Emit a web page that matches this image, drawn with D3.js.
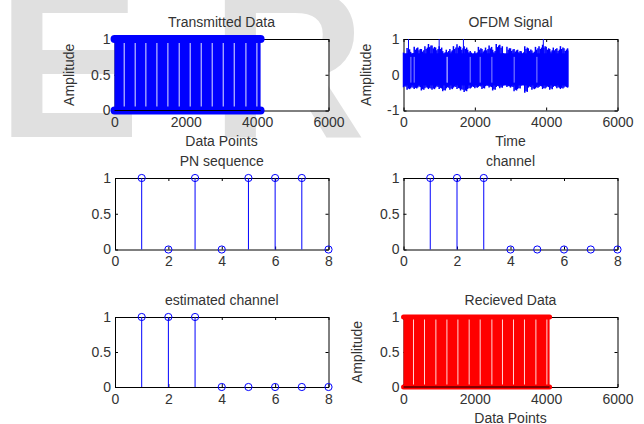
<!DOCTYPE html>
<html lang="en">
<head>
<meta charset="UTF-8">
<title>OFDM channel estimation</title>
<script src="https://d3js.org/d3.v7.min.js"></script>
<style>
  html, body { margin: 0; padding: 0; background: #fff; }
  svg { display: block; font-family: "Liberation Sans", Arial, sans-serif; }
  .lbl { fill: #333; font-size: 14px; }
</style>
</head>
<body>
<svg id="fig" width="644" height="424"></svg>
<script>
// ---- values ----
const stemIndex = [1, 2, 3, 4, 5, 6, 7, 8];
const pnSequence = [1, 0, 1, 0, 1, 1, 1, 0];
const channelTaps = [1, 1, 1, 0, 0, 0, 0, 0];
const estimatedTaps = [1, 1, 1, 0, 0, 0, 0, 0];

// transmitted / received bits: ~4096 binary samples, far too dense to read one by one,
// so the stem block is drawn as a band; the gaps are the pale lines seen inside it
const txLength = 4096;
const rxLength = 4096;
const txGaps = [272, 580, 880, 1189, 1497, 1814, 2122, 2431, 2739, 3048, 3357, 3685, 3993];
const rxGaps = [280, 589, 908, 1217, 1525, 1841, 2150, 2478, 2775, 3084, 3392, 3712, 4020];

// OFDM signal: spiky upper / lower extremes read every 100 samples, plus the solid core
const ofdmTime = [0, 100, 200, 300, 400, 500, 600, 700, 800, 900, 1000, 1100, 1200, 1300, 1400, 1500,
  1600, 1700, 1800, 1900, 2000, 2100, 2200, 2300, 2400, 2500, 2600, 2700, 2800, 2900, 3000, 3100,
  3200, 3300, 3400, 3500, 3600, 3700, 3800, 3900, 4000, 4100, 4200, 4300, 4400, 4500, 4600];
const ofdmHigh = [0.62, 0.75, 0.64, 0.78, 0.76, 0.72, 0.8, 0.86, 0.82, 0.76, 0.8, 0.66, 0.7, 0.72, 0.8, 0.85,
  0.78, 0.8, 0.7, 0.62, 0.66, 0.78, 0.72, 0.76, 0.82, 0.7, 0.86, 0.84, 0.6, 0.78, 0.74, 0.72,
  0.7, 0.66, 0.8, 0.74, 0.68, 0.78, 0.8, 0.84, 0.78, 0.72, 0.76, 0.74, 0.8, 0.74, 0.74];
const ofdmLow = [-0.35, -0.42, -0.38, -0.4, -0.36, -0.44, -0.38, -0.4, -0.42, -0.36, -0.4, -0.46, -0.38, -0.42, -0.36, -0.4,
  -0.44, -0.48, -0.4, -0.36, -0.38, -0.34, -0.4, -0.32, -0.36, -0.44, -0.34, -0.38, -0.3, -0.34, -0.36, -0.46,
  -0.4, -0.3, -0.5, -0.36, -0.42, -0.38, -0.34, -0.4, -0.36, -0.42, -0.34, -0.38, -0.4, -0.36, -0.36];
const ofdmCoreHigh = 0.6;
const ofdmCoreLow = -0.3;
const ofdmPeakTime = [140, 1000, 1680, 3920];
const ofdmPeakValue = [1, 1, 1, 1];
const ofdmPaleTime = [207, 300, 1216, 1234, 1870, 2150, 2478, 3103, 3740];

const dataTicks = [0, 2000, 4000, 6000];
const ampTicks = [0, 0.5, 1];
const ofdmTicks = [-1, 0, 1];
const indexTicks = [0, 2, 4, 6, 8];

const svg = d3.select("#fig");

// faint page watermark behind the figure
const mark = svg.append("text")
    .attr("x", -3)
    .attr("y", 137)
    .attr("font-size", 215)
    .attr("font-weight", "bold")
    .attr("fill", "#e0e0e0");
mark.append("tspan").text("E");
mark.append("tspan").attr("dx", 70).text("R");

function panel(box, xDomain, yDomain, xTicks, yTicks) {
    const x = d3.scaleLinear().domain(xDomain).range([box.left, box.right]);
    const y = d3.scaleLinear().domain(yDomain).range([box.bottom, box.top]);
    const g = svg.append("g");

    g.append("rect")
        .attr("x", box.left).attr("y", box.top)
        .attr("width", box.right - box.left).attr("height", box.bottom - box.top)
        .attr("fill", "#fff");

    const fmt = d => String(d);
    const axes = [
        [d3.axisBottom(x).tickValues(xTicks).tickFormat(fmt).tickPadding(7), `translate(0,${box.bottom})`],
        [d3.axisTop(x).tickValues(xTicks).tickFormat(""), `translate(0,${box.top})`],
        [d3.axisLeft(y).tickValues(yTicks).tickFormat(fmt).tickPadding(4), `translate(${box.left},0)`],
        [d3.axisRight(y).tickValues(yTicks).tickFormat(""), `translate(${box.right},0)`]
    ];
    axes.forEach(([ax, tr]) => {
        const a = g.append("g").attr("transform", tr)
            .call(ax.tickSizeInner(-3).tickSizeOuter(0));
        a.attr("font-family", null).attr("font-size", null);
        a.select(".domain").attr("stroke", "#000");
        a.selectAll(".tick line").attr("stroke", "#000");
        a.selectAll(".tick text").attr("class", "lbl").attr("fill", "#333");
    });

    return { g, x, y, box };
}

function titles(p, title, xLabel, yLabel, yLabelOffset) {
    const b = p.box;
    const cx = (b.left + b.right) / 2;
    svg.append("text").attr("class", "lbl")
        .attr("x", cx).attr("y", b.top - 12)
        .attr("text-anchor", "middle").text(title);
    if (xLabel) {
        svg.append("text").attr("class", "lbl")
            .attr("x", cx).attr("y", b.bottom + 35.5)
            .attr("text-anchor", "middle").text(xLabel);
    }
    if (yLabel) {
        svg.append("text").attr("class", "lbl")
            .attr("transform", `translate(${b.left - yLabelOffset},${(b.top + b.bottom) / 2}) rotate(-90)`)
            .attr("text-anchor", "middle").text(yLabel);
    }
}

function stems(p, xs, ys, color) {
    const pts = xs.map((d, i) => ({ x: d, v: ys[i] }));
    p.g.selectAll(null).data(pts).join("line")
        .attr("x1", d => p.x(d.x)).attr("x2", d => p.x(d.x))
        .attr("y1", p.y(0)).attr("y2", d => p.y(d.v))
        .attr("stroke", color).attr("stroke-width", 1);
    p.g.selectAll(null).data(pts).join("circle")
        .attr("cx", d => p.x(d.x)).attr("cy", d => p.y(d.v))
        .attr("r", 3.6)
        .attr("fill", "none").attr("stroke", color).attr("stroke-width", 1);
}

function denseStems(p, n, gaps, color, paleColor, markerWidth) {
    p.g.append("rect")
        .attr("x", p.x(1)).attr("width", p.x(n) - p.x(1))
        .attr("y", p.y(1)).attr("height", p.y(0) - p.y(1))
        .attr("fill", color);
    p.g.selectAll(null).data(gaps).join("line")
        .attr("x1", d => p.x(d)).attr("x2", d => p.x(d))
        .attr("y1", p.y(1)).attr("y2", p.y(0))
        .attr("stroke", paleColor).attr("stroke-width", 1);
    [0, 1].forEach(v => {
        p.g.append("line")
            .attr("x1", p.x(1)).attr("x2", p.x(n))
            .attr("y1", p.y(v)).attr("y2", p.y(v))
            .attr("stroke", color).attr("stroke-width", markerWidth)
            .attr("stroke-linecap", "round");
    });
    // stem baseline
    p.g.append("line")
        .attr("x1", p.x(1)).attr("x2", p.x(n))
        .attr("y1", p.y(0)).attr("y2", p.y(0))
        .attr("stroke", "#000").attr("stroke-width", 1);
}

// ---- Transmitted Data ----
const tx = panel({ left: 114.5, right: 328.5, top: 39, bottom: 110.5 }, [0, 6000], [0, 1], dataTicks, ampTicks);
denseStems(tx, txLength, txGaps, "#0000ff", "#e4e4ff", 8);
titles(tx, "Transmitted Data", "Data Points", "Amplitude", 40.5);

// ---- OFDM Signal ----
const of = panel({ left: 403.5, right: 617.5, top: 39, bottom: 110.5 }, [0, 6000], [-1, 1], dataTicks, ofdmTicks);
const tEnd = ofdmTime[ofdmTime.length - 1];
of.g.append("rect")
    .attr("x", of.x(0)).attr("width", of.x(tEnd) - of.x(0))
    .attr("y", of.y(ofdmCoreHigh)).attr("height", of.y(ofdmCoreLow) - of.y(ofdmCoreHigh))
    .attr("fill", "#0000ff");
const ofdmPts = ofdmTime.map((t, i) => ({ t, hi: ofdmHigh[i], lo: ofdmLow[i] }));
// each extreme drawn as a few close strokes so the edge reads as dense spikes
[0, 35, 70].forEach((shift, k) => {
    const scaleHi = [1, 0.9, 0.95][k];
    const scaleLo = [1, 0.92, 0.96][k];
    of.g.selectAll(null).data(ofdmPts).join("line")
        .attr("x1", d => of.x(Math.min(d.t + shift, tEnd))).attr("x2", d => of.x(Math.min(d.t + shift, tEnd)))
        .attr("y1", d => of.y(d.lo * scaleLo)).attr("y2", d => of.y(d.hi * scaleHi))
        .attr("stroke", "#0000ff").attr("stroke-width", 1.5);
});
of.g.selectAll(null).data(ofdmPaleTime).join("line")
    .attr("x1", d => of.x(d)).attr("x2", d => of.x(d))
    .attr("y1", of.y(0.5)).attr("y2", of.y(-0.22))
    .attr("stroke", "#8c8cff").attr("stroke-width", 1);
of.g.selectAll(null).data(ofdmPeakTime.map((t, i) => ({ t, v: ofdmPeakValue[i] }))).join("line")
    .attr("x1", d => of.x(d.t)).attr("x2", d => of.x(d.t))
    .attr("y1", of.y(0)).attr("y2", d => of.y(d.v))
    .attr("stroke", "#0000ff").attr("stroke-width", 1);
titles(of, "OFDM Signal", "Time", "Amplitude", 33);

// ---- PN sequence ----
const pn = panel({ left: 115, right: 328.5, top: 178, bottom: 249.5 }, [0, 8], [0, 1], indexTicks, ampTicks);
stems(pn, stemIndex, pnSequence, "#0000ff");
titles(pn, "PN sequence");

// ---- channel ----
const ch = panel({ left: 403.5, right: 617.5, top: 178, bottom: 249.5 }, [0, 8], [0, 1], indexTicks, ampTicks);
stems(ch, stemIndex, channelTaps, "#0000ff");
titles(ch, "channel");

// ---- estimated channel ----
const est = panel({ left: 115, right: 328.5, top: 317, bottom: 387 }, [0, 8], [0, 1], indexTicks, ampTicks);
stems(est, stemIndex, estimatedTaps, "#0000ff");
titles(est, "estimated channel");

// ---- Recieved Data ----
const rx = panel({ left: 403.5, right: 617.5, top: 317, bottom: 387 }, [0, 6000], [0, 1], dataTicks, ampTicks);
denseStems(rx, rxLength, rxGaps, "#ff0000", "#ffd6d6", 5);
titles(rx, "Recieved Data", "Data Points", "Amplitude", 41.3);
</script>
</body>
</html>
